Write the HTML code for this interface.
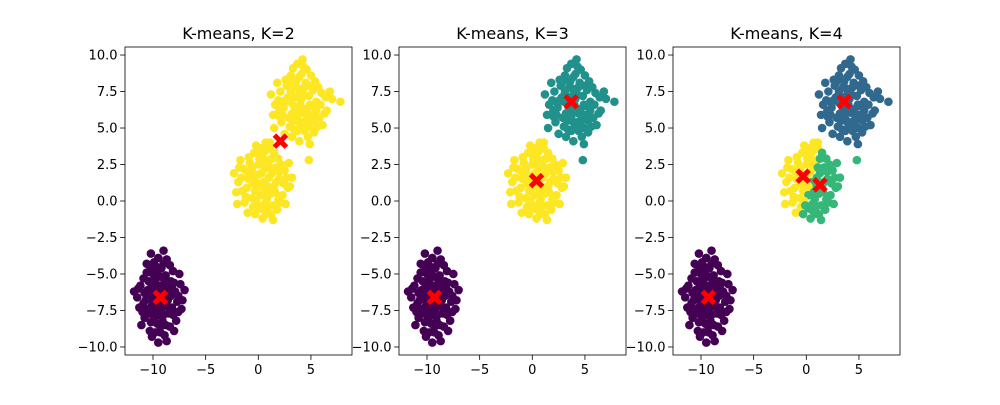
<!DOCTYPE html>
<html><head><meta charset="utf-8"><style>
body{margin:0;background:#fff}
svg text{font-family:"DejaVu Sans","Liberation Sans",sans-serif}
</style></head><body>
<svg id="fig" width="1000" height="400" xmlns="http://www.w3.org/2000/svg"></svg>
<script>
const clusterA=[[-9.3,-6.6],[-8.5,-6.0],[-10.1,-7.2],[-9.0,-7.8],[-9.8,-5.4],[-8.2,-7.3],[-10.5,-6.1],[-8.8,-5.1],[-9.6,-8.4],[-10.9,-7.0],[-7.9,-6.2],[-9.2,-4.6],[-8.4,-8.6],[-10.3,-8.9],[-11.2,-5.8],[-7.6,-7.6],[-9.9,-4.2],[-8.7,-4.0],[-10.6,-4.9],[-11.5,-6.6],[-7.4,-5.7],[-9.5,-9.7],[-8.9,-9.2],[-10.8,-8.0],[-7.8,-8.2],[-9.0,-3.4],[-10.2,-3.6],[-11.0,-7.6],[-7.2,-6.8],[-8.1,-4.8],[-9.4,-5.8],[-8.6,-6.8],[-10.0,-6.4],[-9.7,-7.5],[-8.9,-6.3],[-10.4,-5.5],[-8.3,-5.5],[-9.1,-8.2],[-10.7,-6.8],[-7.7,-6.9],[-11.3,-7.3],[-9.5,-3.9],[-8.0,-8.9],[-10.1,-9.3],[-11.8,-6.2],[-7.0,-6.1],[-9.8,-6.9],[-8.7,-7.2],[-9.2,-5.2],[-10.3,-7.7],[-8.4,-4.4],[-9.9,-8.0],[-10.9,-5.3],[-7.5,-5.0],[-9.6,-4.9],[-8.1,-7.8],[-10.6,-4.3],[-9.3,-9.0],[-11.1,-8.5],[-7.3,-7.4],[-9.0,-6.0],[-9.6,-6.2],[-8.8,-8.5],[-10.2,-8.3],[-9.4,-7.1],[-8.6,-5.8],[-10.0,-5.0],[-9.1,-6.9],[-9.5,-7.8],[-8.3,-6.5],[-10.4,-6.7],[-9.9,-5.9],[-8.9,-5.6],[-9.3,-8.6],[-8.5,-7.7],[-10.6,-7.4],[-9.7,-4.5],[-8.0,-5.6],[-10.8,-6.3],[-9.0,-4.3],[-9.8,-9.0],[-11.4,-6.0],[-7.6,-6.5],[-10.2,-4.6],[-8.7,-9.6],[-9.2,-7.4],[-8.2,-6.0],[-10.1,-5.8]];
const clusterB=[[0.5,1.3],[1.3,1.9],[-0.3,0.7],[0.8,0.1],[0,2.5],[1.6,0.6],[-0.7,1.8],[1.0,2.8],[0.2,-0.5],[-1.1,0.9],[2.0,1.5],[0.6,3.4],[1.4,-0.3],[-0.5,-0.4],[-1.4,2.2],[2.3,0.4],[-0.2,3.8],[1.1,3.6],[-0.9,3.0],[-1.9,1.3],[2.5,2.1],[0.4,-1.2],[1.2,-0.9],[-1.3,-0.1],[2.6,-0.2],[0.7,4.0],[-0.4,3.3],[-2.1,0.6],[3.0,1.0],[1.9,2.9],[0.3,1.9],[0.9,1.0],[-0.1,1.2],[0.2,0.4],[1.7,1.3],[-0.8,2.6],[1.8,-0.6],[0.5,-0.6],[-1.6,1.6],[2.2,2.5],[-2.3,1.9],[0.1,2.9],[1.5,3.3],[-1.0,-0.8],[2.8,0.9],[3.2,1.6],[-0.6,0.2],[1.2,0.5],[0.0,1.8],[-1.2,0.3],[1.7,2.3],[-0.3,-0.9],[0.9,-0.4],[-1.7,2.8],[2.1,-0.1],[0.4,3.0],[-2.0,-0.2],[1.4,-1.3],[2.9,2.6],[0.6,2.2],[-0.5,1.2],[1.0,1.6],[0.2,1.0],[-0.9,1.5],[0.4,2.6],[1.5,1.0],[-0.2,0.0],[1.1,2.3],[0.7,0.6],[-1.5,0.7],[2.4,1.2],[0.0,3.3],[-0.6,2.2],[1.9,0.1],[-0.1,-0.3],[0.8,-0.9],[2.0,2.0],[-1.0,2.0],[0.3,3.6],[1.3,2.9],[-1.8,2.3],[2.7,1.6],[0.6,-0.2],[-0.4,1.6]];
const clusterC=[[4,6.6],[4.8,7.2],[3.2,6.0],[4.3,5.4],[3.5,7.8],[5.1,5.9],[2.8,7.1],[4.5,8.1],[3.7,4.8],[2.4,6.4],[5.5,6.8],[4.1,8.7],[4.9,5.0],[3.0,5.1],[2.1,7.5],[5.8,5.7],[3.3,9.1],[4.6,9.0],[2.6,8.3],[1.6,6.6],[6.0,7.4],[3.9,4.1],[4.7,4.4],[2.2,5.4],[6.1,5.2],[4.2,9.7],[3.1,8.6],[1.4,5.9],[6.5,6.2],[5.4,8.2],[3.8,7.2],[4.4,6.0],[3.4,6.5],[3.7,5.7],[5.2,6.5],[2.7,7.9],[5.3,4.7],[4.0,5.0],[1.9,6.9],[5.7,7.8],[1.2,7.3],[3.6,8.2],[5.0,8.6],[2.5,4.6],[6.3,6.0],[7.0,7.0],[2.9,5.7],[4.7,5.6],[3.5,7.1],[2.3,5.9],[5.2,7.6],[3.2,4.4],[4.4,4.8],[1.8,8.1],[5.6,5.1],[3.9,8.5],[1.5,5.0],[4.9,3.9],[7.8,6.8],[4.8,2.8],[1.1,4.0],[6.8,7.5],[2.0,5.8],[4.2,7.4],[3.0,6.8],[4.6,6.3],[3.6,6.1],[4.9,6.6],[3.1,7.5],[4.4,7.8],[2.6,6.9],[5.5,6.2],[3.9,5.4],[4.1,7.0],[3.3,5.5],[5.0,7.9],[2.9,8.2],[3.7,9.4],[4.6,5.2],[2.3,6.8],[5.9,6.6],[3.4,4.9],[4.3,9.2],[6.4,7.1],[2.0,6.2],[5.3,5.5],[3.8,7.7],[4.0,6.1]];
const centersK2=[[-9.3,-6.6],[2.1,4.1]];
const colorsK2=["#440154","#fde725"];
const centersK3=[[-9.3,-6.6],[3.7,6.8],[0.4,1.4]];
const colorsK3=["#440154","#21918c","#fde725"];
const centersK4=[[-9.3,-6.6],[3.6,6.8],[1.3,1.1],[-0.3,1.7]];
const colorsK4=["#440154","#31688e","#35b779","#fde725"];
const titles=["K-means, K=2","K-means, K=3","K-means, K=4"];
const xTicks=[-10,-5,0,5];
const yTicks=[-10,-7.5,-5,-2.5,0,2.5,5,7.5,10];

const NS="http://www.w3.org/2000/svg";
const svg=document.getElementById('fig');
function mk(t,a,p){const e=document.createElementNS(NS,t);for(const k in a)e.setAttribute(k,a[k]);(p||svg).appendChild(e);return e;}
const panels=[{c:centersK2,col:colorsK2},{c:centersK3,col:colorsK3},{c:centersK4,col:colorsK4}];
const allPts=clusterA.concat(clusterB,clusterC);
const L0=125,W=227,T=47,H=308;
const xmin=-12.66,xmax=8.9,ymin=-10.55,ymax=10.55;
panels.forEach((p,i)=>{
  const L=L0+i*274;
  const sx=v=>L+(v-xmin)/(xmax-xmin)*W;
  const sy=v=>T+(ymax-v)/(ymax-ymin)*H;
  const g=mk('g',{});
  
  
  const clip=mk('clipPath',{id:'c'+i},g);mk('rect',{x:L,y:T,width:W,height:H},clip);
  const pg=mk('g',{'clip-path':'url(#c'+i+')'},g);
  allPts.forEach(pt=>{
    let best=0,bd=1e9;
    p.c.forEach((c,k)=>{const d=(pt[0]-c[0])**2+(pt[1]-c[1])**2;if(d<bd){bd=d;best=k;}});
    const e=mk('circle',{cx:sx(pt[0]),cy:sy(pt[1]),r:4.3,fill:p.col[best]},pg);
    
    
  });
  p.c.forEach(c=>{
    const x=sx(c[0]),y=sy(c[1]);
    const e=mk('path',{d:`M${x-6},${y-6}L${x+6},${y+6}M${x+6},${y-6}L${x-6},${y+6}`,stroke:'#ff0000','stroke-width':5,fill:'none'},g);
    
    
  });
  const fr=mk('rect',{x:L,y:T,width:W,height:H,fill:'none',stroke:'#000','stroke-width':0.8},g);
  
  
  xTicks.forEach(v=>{
    const x=sx(v);mk('line',{x1:x,x2:x,y1:T+H,y2:T+H+4.9,stroke:'#000','stroke-width':0.8},g);
    const t=mk('text',{x:x,y:T+H+19,'font-size':13,'text-anchor':'middle'},g);
    t.textContent=String(v).replace('-','−');
    
    
  });
  yTicks.forEach(v=>{
    const y=sy(v);mk('line',{x1:L-4.9,x2:L,y1:y,y2:y,stroke:'#000','stroke-width':0.8},g);
    const t=mk('text',{x:L-7.5,y:y+4.5,'font-size':13,'text-anchor':'end'},g);
    t.textContent=v.toFixed(1).replace('-','−');
    
    
  });
  const tt=mk('text',{x:L+W/2,y:T-8,'font-size':16,'text-anchor':'middle'},g);
  tt.textContent=titles[i];
  
  
});
</script>
</body></html>
